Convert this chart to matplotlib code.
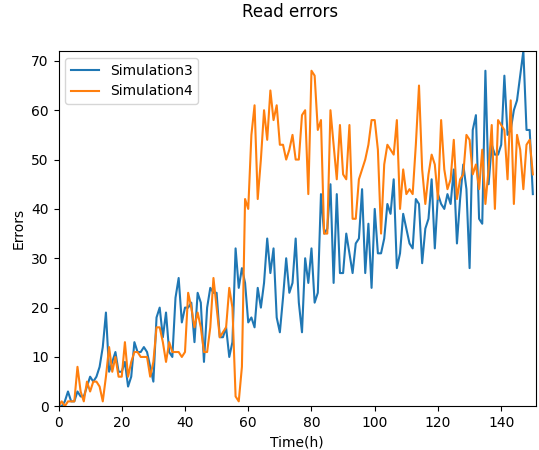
import matplotlib
matplotlib.use("Agg")
import matplotlib.pyplot as plt
import numpy as np

hours = list(range(151))

simulation3 = [0, 0, 1, 3, 1, 1, 3, 2, 2, 4,
               6, 5, 6, 8, 12, 19, 7, 9, 11, 7,
               7, 9, 4, 6, 13, 11, 11, 12, 11, 8,
               5, 18, 20, 14, 19, 11, 10, 22, 26, 17,
               20, 20, 21, 13, 23, 21, 9, 20, 24, 23,
               23, 14, 14, 16, 10, 13, 32, 24, 28, 25,
               17, 18, 16, 24, 20, 25, 34, 27, 32, 18,
               15, 22, 30, 23, 25, 34, 21, 15, 30, 25,
               32, 21, 23, 43, 35, 36, 45, 25, 43, 27,
               27, 35, 31, 27, 33, 34, 44, 27, 37, 24,
               40, 31, 31, 34, 41, 39, 46, 28, 31, 39,
               36, 33, 32, 42, 41, 29, 36, 38, 46, 32,
               43, 41, 40, 43, 41, 48, 33, 42, 49, 44,
               28, 56, 59, 38, 37, 68, 45, 53, 51, 51,
               53, 67, 55, 56, 60, 62, 67, 72, 56, 56,
               43]

simulation4 = [0, 1, 0, 1, 1, 1, 8, 3, 1, 5,
               3, 5, 5, 4, 1, 6, 12, 7, 10, 6,
               6, 13, 6, 9, 11, 11, 10, 10, 10, 6,
               9, 16, 16, 13, 9, 13, 11, 11, 11, 10,
               11, 23, 20, 16, 19, 16, 11, 11, 16, 26,
               20, 14, 15, 16, 24, 20, 2, 1, 8, 42,
               40, 55, 61, 42, 50, 60, 54, 64, 58, 61,
               53, 53, 50, 52, 55, 50, 50, 59, 60, 43,
               68, 67, 56, 58, 35, 35, 60, 53, 46, 57,
               47, 46, 57, 38, 38, 46, 48, 50, 53, 58,
               58, 52, 35, 49, 53, 52, 51, 58, 40, 48,
               43, 44, 43, 53, 65, 48, 41, 47, 51, 49,
               42, 58, 48, 44, 46, 54, 42, 46, 47, 55,
               54, 47, 49, 44, 52, 41, 48, 57, 40, 58,
               57, 56, 46, 62, 41, 55, 52, 44, 53, 54,
               47]

W, H = 539, 450
fig = plt.figure(figsize=(W / 100, H / 100), dpi=100)
left, right, top, bottom = 58.5, 536, 51, 406.3
ax = fig.add_axes([left / W, 1 - bottom / H, (right - left) / W, (bottom - top) / H])

ax.plot(hours, simulation3, label="Simulation3", color="#1f77b4", linewidth=1.5)
ax.plot(hours, simulation4, label="Simulation4", color="#ff7f0e", linewidth=1.5)

ax.set_xlim(0, len(hours))
ax.set_ylim(0, max(max(simulation3), max(simulation4)))
ax.set_xlabel("Time(h)")
ax.set_ylabel("Errors")
ax.legend(loc="upper left")

fig.text(290 / W, 1 - 12 / H, "Read errors", ha="center", va="center", fontsize=12)

fig.savefig("out.png", dpi=100)
